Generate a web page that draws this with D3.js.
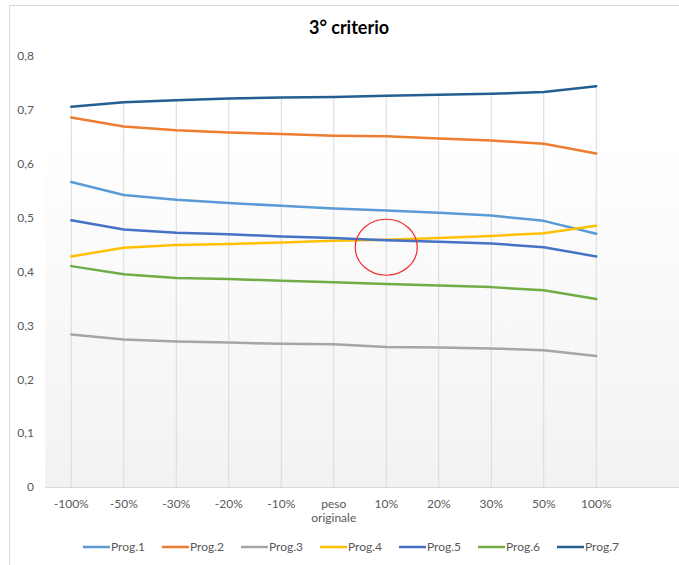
<!DOCTYPE html>
<html>
<head>
<meta charset="utf-8">
<script src="https://cdn.jsdelivr.net/npm/d3@7/dist/d3.min.js"></script>
<style>
  html, body { margin: 0; padding: 0; background: #ffffff; }
  svg { display: block; font-family: Lato, "Open Sans", sans-serif; }
</style>
</head>
<body>
<script>
// Categories on the x axis (weight variation)
const categories = ["-100%", "-50%", "-30%", "-20%", "-10%", "peso originale", "10%", "20%", "30%", "50%", "100%"];

// Score of each program for every weight variation
const seriesNames = ["Prog.1", "Prog.2", "Prog.3", "Prog.4", "Prog.5", "Prog.6", "Prog.7"];
const prog1 = [0.566, 0.542, 0.533, 0.527, 0.522, 0.517, 0.513, 0.509, 0.504, 0.494, 0.470];
const prog2 = [0.686, 0.669, 0.662, 0.658, 0.655, 0.652, 0.651, 0.647, 0.643, 0.637, 0.619];
const prog3 = [0.283, 0.274, 0.270, 0.268, 0.266, 0.265, 0.260, 0.259, 0.257, 0.254, 0.243];
const prog4 = [0.428, 0.444, 0.449, 0.451, 0.454, 0.457, 0.459, 0.462, 0.466, 0.471, 0.485];
const prog5 = [0.495, 0.478, 0.472, 0.469, 0.465, 0.462, 0.458, 0.455, 0.452, 0.445, 0.428];
const prog6 = [0.410, 0.395, 0.388, 0.386, 0.383, 0.380, 0.377, 0.374, 0.371, 0.365, 0.349];
const prog7 = [0.706, 0.714, 0.718, 0.721, 0.723, 0.724, 0.726, 0.728, 0.730, 0.733, 0.744];
const seriesValues = [prog1, prog2, prog3, prog4, prog5, prog6, prog7];
const seriesColors = ["#5B9BD5", "#ED7D31", "#A5A5A5", "#FFC000", "#4472C4", "#70AD47", "#255E91"];

// Y axis tick values
const yTicks = [0, 0.1, 0.2, 0.3, 0.4, 0.5, 0.6, 0.7, 0.8];

// Highlight ring around the crossing of Prog.4 and Prog.5
const highlightCategory = ["10%"];
const highlightValue = [0.445];

const W = 679, H = 565;
const plot = { left: 45, right: 679, top: 56, bottom: 487 };
const step = 52.5;

const it = d3.formatLocale({ decimal: ",", thousands: ".", grouping: [3], currency: ["€", ""] });
const fmt = it.format(".1~f");

const svg = d3.select("body").append("svg").attr("width", W).attr("height", H);

// Chart frame (top and left edges visible)
svg.append("path")
  .attr("d", `M9.5,${H} V5.5 H${W}`)
  .attr("fill", "none").attr("stroke", "#d9d9d9").attr("stroke-width", 1);

// Plot area background gradient
const defs = svg.append("defs");
const grad = defs.append("linearGradient").attr("id", "plotBg")
  .attr("x1", 0).attr("y1", 0).attr("x2", 0).attr("y2", 1);
grad.append("stop").attr("offset", "0%").attr("stop-color", "#ffffff");
grad.append("stop").attr("offset", "18%").attr("stop-color", "#ffffff");
grad.append("stop").attr("offset", "100%").attr("stop-color", "#f2f2f2");
svg.append("rect")
  .attr("x", plot.left).attr("y", plot.top)
  .attr("width", plot.right - plot.left).attr("height", plot.bottom - plot.top)
  .attr("fill", "url(#plotBg)");

// Title
svg.append("text")
  .attr("x", 349).attr("y", 34)
  .attr("text-anchor", "middle")
  .attr("font-size", "18px").attr("font-weight", "bold").attr("fill", "#000")
  .text("3° criterio");

const x = d3.scaleBand()
  .domain(categories)
  .range([plot.left, plot.left + step * categories.length])
  .padding(0);
const xc = c => x(c) + x.bandwidth() / 2;

const y = d3.scaleLinear().domain([0, 0.8]).range([plot.bottom, plot.top]);

// Drop lines from the highest value of each category to the axis
const maxByCat = categories.map((c, i) => ({ c, v: d3.max(seriesValues, s => s[i]) }));
svg.append("g").selectAll("line").data(maxByCat).join("line")
  .attr("x1", d => xc(d.c)).attr("x2", d => xc(d.c))
  .attr("y1", d => y(d.v)).attr("y2", y(0))
  .attr("stroke", "#d9d9d9").attr("stroke-width", 1);

// Category axis baseline
svg.append("line")
  .attr("x1", plot.left).attr("x2", plot.right)
  .attr("y1", plot.bottom + 0.5).attr("y2", plot.bottom + 0.5)
  .attr("stroke", "#d9d9d9").attr("stroke-width", 1);

// X axis
const xAxis = svg.append("g")
  .attr("transform", `translate(0,${plot.bottom})`)
  .call(d3.axisBottom(x).tickSize(0).tickPadding(12));
xAxis.select(".domain").remove();
xAxis.selectAll("text")
  .attr("font-size", "12px").attr("fill", "#595959")
  .attr("font-family", "Lato, 'Open Sans', sans-serif")
  .each(function (d) {
    const words = d.split(" ");
    if (words.length > 1) {
      const t = d3.select(this).text(null);
      words.forEach((w, i) => {
        t.append("tspan").attr("x", 0).attr("dy", i === 0 ? "0.71em" : "1.2em").text(w);
      });
      t.attr("dy", null);
    }
  });

// Y axis
const yAxis = svg.append("g")
  .attr("transform", `translate(${plot.left},0)`)
  .call(d3.axisLeft(y).tickValues(yTicks).tickSize(0).tickPadding(11).tickFormat(fmt));
yAxis.select(".domain").remove();
yAxis.selectAll("text")
  .attr("font-size", "12px").attr("fill", "#595959")
  .attr("font-family", "Lato, 'Open Sans', sans-serif");

// Series lines
const line = d3.line()
  .x((d, i) => xc(categories[i]))
  .y(d => y(d));
svg.append("g").selectAll("path").data(seriesValues).join("path")
  .attr("d", d => line(d))
  .attr("fill", "none")
  .attr("stroke", (d, i) => seriesColors[i])
  .attr("stroke-width", 2.5)
  .attr("stroke-linejoin", "round")
  .attr("stroke-linecap", "round");

// Highlight ring
svg.append("g").selectAll("ellipse").data(highlightCategory).join("ellipse")
  .attr("cx", (d) => xc(d))
  .attr("cy", (d, i) => y(highlightValue[i]))
  .attr("rx", 31).attr("ry", 28)
  .attr("fill", "none").attr("stroke", "#f22a2a").attr("stroke-width", 1.2);

// Legend
const legend = svg.append("g").attr("transform", "translate(83,547)");
const item = legend.selectAll("g").data(seriesNames).join("g")
  .attr("transform", (d, i) => `translate(${i * 79},0)`);
item.append("line")
  .attr("x1", 0).attr("x2", 27).attr("y1", 0).attr("y2", 0)
  .attr("stroke", (d, i) => seriesColors[i]).attr("stroke-width", 2.5);
item.append("text")
  .attr("x", 28).attr("y", 0).attr("dy", "0.35em")
  .attr("font-size", "12px").attr("fill", "#595959")
  .text(d => d);
</script>
</body>
</html>
